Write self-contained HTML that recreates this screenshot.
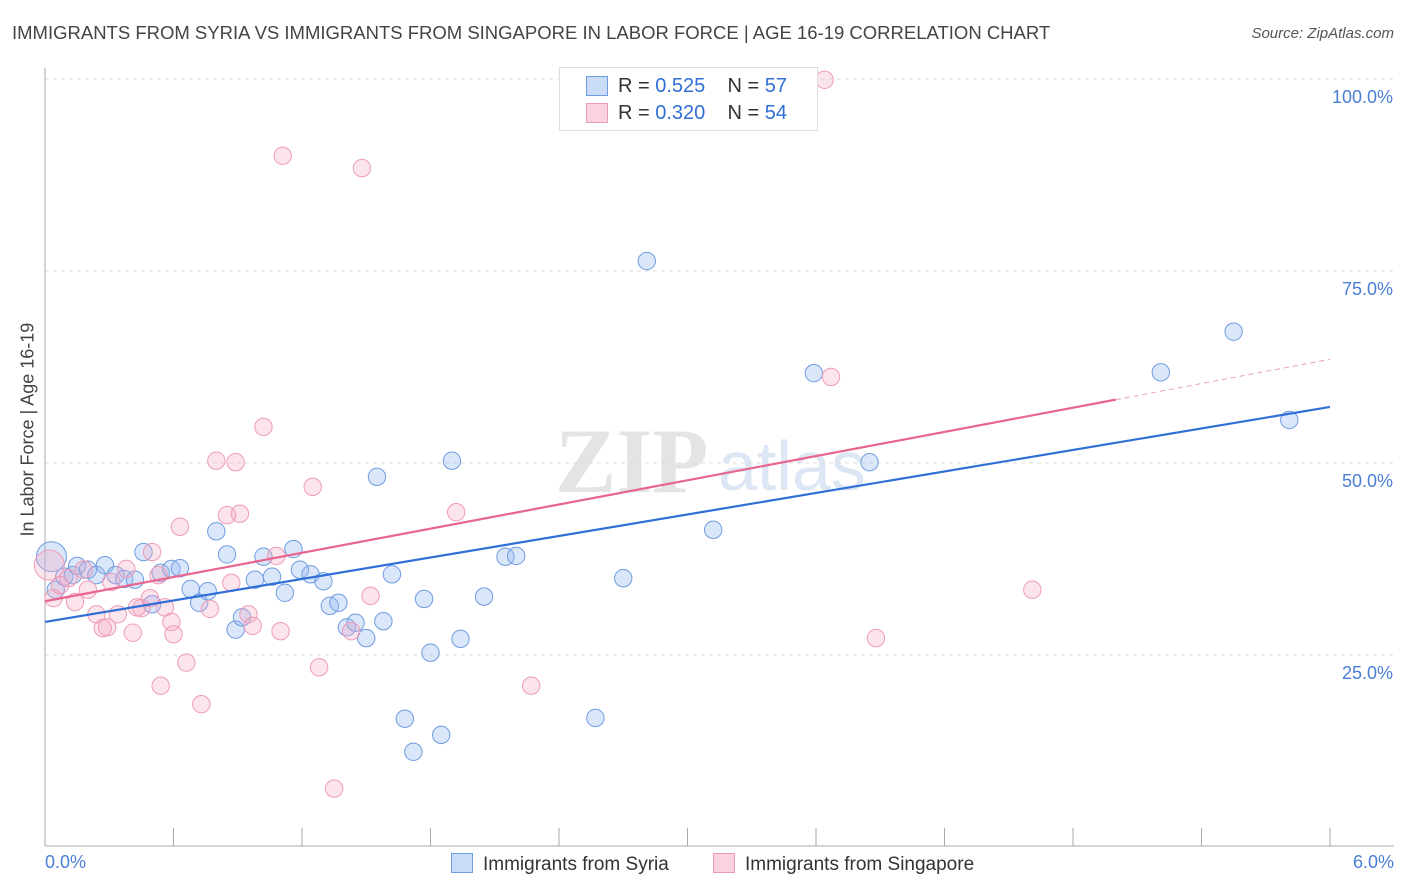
<!DOCTYPE html>
<html><head><meta charset="utf-8">
<style>
body{margin:0;background:#fff;font-family:"Liberation Sans",sans-serif;}
#wrap{position:relative;width:1406px;height:892px;overflow:hidden;}
.t{position:absolute;white-space:nowrap;}
</style></head>
<body>
<div id="wrap">
<div class="t" style="left:12px;top:22px;font-size:18.5px;color:#444;">IMMIGRANTS FROM SYRIA VS IMMIGRANTS FROM SINGAPORE IN LABOR FORCE | AGE 16-19 CORRELATION CHART</div>
<div class="t" style="right:12px;top:25px;font-size:15px;color:#555;font-style:italic;">Source: ZipAtlas.com</div>
<svg id="svg" width="1406" height="892" style="position:absolute;left:0;top:0"></svg>
</div>
<script>
const xTicks=[0,0.6,1.2,1.8,2.4,3.0,3.6,4.2,4.8,5.4,6.0];
const yTicks=[25,50,75,100];
const yTickLabels=["25.0%","50.0%","75.0%","100.0%"];
const syriaX=[0.03,0.05,0.09,0.13,0.15,0.20,0.24,0.28,0.33,0.37,0.42,0.46,0.50,0.54,0.59,0.63,0.68,0.72,0.76,0.80,0.85,0.89,0.92,0.98,1.02,1.06,1.12,1.16,1.19,1.24,1.30,1.33,1.37,1.41,1.45,1.50,1.55,1.58,1.62,1.68,1.72,1.77,1.80,1.85,1.90,1.94,2.05,2.15,2.20,2.57,2.70,2.81,3.12,3.59,3.85,5.21,5.55,5.81];
const syriaY=[37.8,33.5,35.2,35.4,36.6,36.1,35.4,36.7,35.4,34.9,34.8,38.4,31.6,35.7,36.2,36.3,33.6,31.8,33.3,41.1,38.1,28.3,29.9,34.8,37.8,35.2,33.1,38.8,36.1,35.5,34.6,31.4,31.8,28.6,29.2,27.2,48.2,29.4,35.5,16.7,12.4,32.3,25.3,14.6,50.3,27.1,32.6,37.8,37.9,16.8,35.0,76.3,41.3,61.7,50.1,61.8,67.1,55.6];
const singX=[0.02,0.04,0.07,0.11,0.14,0.18,0.20,0.24,0.27,0.29,0.31,0.34,0.38,0.41,0.43,0.45,0.49,0.50,0.53,0.54,0.56,0.59,0.60,0.63,0.66,0.73,0.77,0.80,0.85,0.87,0.89,0.91,0.95,0.97,1.02,1.08,1.10,1.11,1.25,1.28,1.35,1.43,1.48,1.52,1.92,2.27,3.64,3.67,3.88,4.61];
const singY=[36.7,32.4,34.1,35.0,31.9,36.1,33.5,30.3,28.5,28.6,34.5,30.3,36.2,27.9,31.2,31.1,32.4,38.4,35.4,21.0,31.2,29.3,27.7,41.7,24.0,18.6,31.0,50.3,43.2,34.4,50.1,43.4,30.3,28.8,54.7,37.9,28.1,90.0,46.9,23.4,7.6,28.1,88.4,32.7,43.6,21.0,99.9,61.2,27.2,33.5];
const syriaTrend=[29.3,57.3];
const singTrend=[32.0,63.5];
const singSolidEnd=5.0;

const NS="http://www.w3.org/2000/svg";
const svg=document.getElementById('svg');
const X=v=>45+v/6*1285;
const Y=v=>847-v*7.68;
function mk(tag,attrs,parent){const e=document.createElementNS(NS,tag);for(const k in attrs)e.setAttribute(k,attrs[k]);(parent||svg).appendChild(e);return e;}
const wm=mk('text',{x:555,y:492,'font-size':92,fill:'#e4e4e4','font-family':'Liberation Serif, serif','font-weight':'bold'});
wm.textContent='ZIP';


const wm2=mk('text',{x:718,y:490,'font-size':70,fill:'#dce6f4','font-family':'Liberation Sans, sans-serif'});
wm2.textContent='atlas';


yTicks.forEach((v,i)=>{
  const g=mk('line',{x1:45,x2:1394,y1:Y(v),y2:Y(v),stroke:'#dddddd','stroke-dasharray':'4,4'});
  
  
  const t=mk('text',{x:1393,y:Y(v)+24,'text-anchor':'end','font-size':18,fill:'#4a7fd6'});
  t.textContent=yTickLabels[i];
  
  
});
const ax=mk('line',{x1:45,x2:45,y1:68,y2:846,stroke:'#aaa'});


const bx=mk('line',{x1:45,x2:1394,y1:846,y2:846,stroke:'#aaa'});


xTicks.forEach(v=>{
  const t=mk('line',{x1:X(v),x2:X(v),y1:828,y2:846,stroke:'#aaa'});
  
  
});
function dots(xs,ys,fill,stroke,name){
  xs.forEach((x,i)=>{
    const big=(i===0);
    const c=mk('circle',{cx:X(x),cy:Y(ys[i]),r:big?15:8.7,fill:fill,stroke:stroke,'stroke-width':1});
    
    
  });
}
dots(syriaX,syriaY,'rgba(150,185,240,0.35)','#6f9ce0','syria-point');
dots(singX,singY,'rgba(245,165,195,0.3)','#ee9bb8','singapore-point');
const l1=mk('line',{x1:X(0),y1:Y(syriaTrend[0]),x2:X(6),y2:Y(syriaTrend[1]),stroke:'#2f6fd6','stroke-width':2.2});


const sy=v=>singTrend[0]+(singTrend[1]-singTrend[0])*v/6;
const l2=mk('line',{x1:X(0),y1:Y(sy(0)),x2:X(singSolidEnd),y2:Y(sy(singSolidEnd)),stroke:'#e8658f','stroke-width':2.2});


const l3=mk('line',{x1:X(singSolidEnd),y1:Y(sy(singSolidEnd)),x2:X(6),y2:Y(sy(6)),stroke:'#e8a0b8','stroke-width':1,'stroke-dasharray':'5,4'});


</script>
<div class="t" style="left:-52px;top:446px;font-size:18px;color:#444;transform:rotate(-90deg);width:160px;text-align:center;">In Labor Force | Age 16-19</div>
<div class="t" style="left:45px;top:852px;font-size:18px;color:#4a7fd6;">0.0%</div>
<div class="t" style="right:12px;top:852px;font-size:18px;color:#4a7fd6;">6.0%</div>
<div style="position:absolute;left:559px;top:67px;width:257px;height:62px;border:1px solid #ddd;background:#fff;font-size:20px;color:#333;">
  <div style="position:absolute;left:26px;top:8px;width:20px;height:18px;background:rgba(150,185,240,0.5);border:1px solid #6f9ce0;"></div>
  <div class="t" style="left:58px;top:7px;">R = <span style="color:#2f6fd6">0.525</span>&nbsp;&nbsp;&nbsp; N = <span style="color:#2f6fd6">57</span></div>
  <div style="position:absolute;left:26px;top:35px;width:20px;height:18px;background:rgba(245,165,195,0.5);border:1px solid #ee9bb8;"></div>
  <div class="t" style="left:58px;top:34px;">R = <span style="color:#2f6fd6">0.320</span>&nbsp;&nbsp;&nbsp; N = <span style="color:#2f6fd6">54</span></div>
</div>
<div style="position:absolute;left:451px;top:853px;font-size:19px;color:#333;">
  <span style="display:inline-block;width:20px;height:18px;background:rgba(150,185,240,0.5);border:1px solid #6f9ce0;vertical-align:-3px;margin-right:10px;"></span>Immigrants from Syria</div>
<div style="position:absolute;left:713px;top:853px;font-size:19px;color:#333;">
  <span style="display:inline-block;width:20px;height:18px;background:rgba(245,165,195,0.5);border:1px solid #ee9bb8;vertical-align:-3px;margin-right:10px;"></span>Immigrants from Singapore</div>
</body></html>
